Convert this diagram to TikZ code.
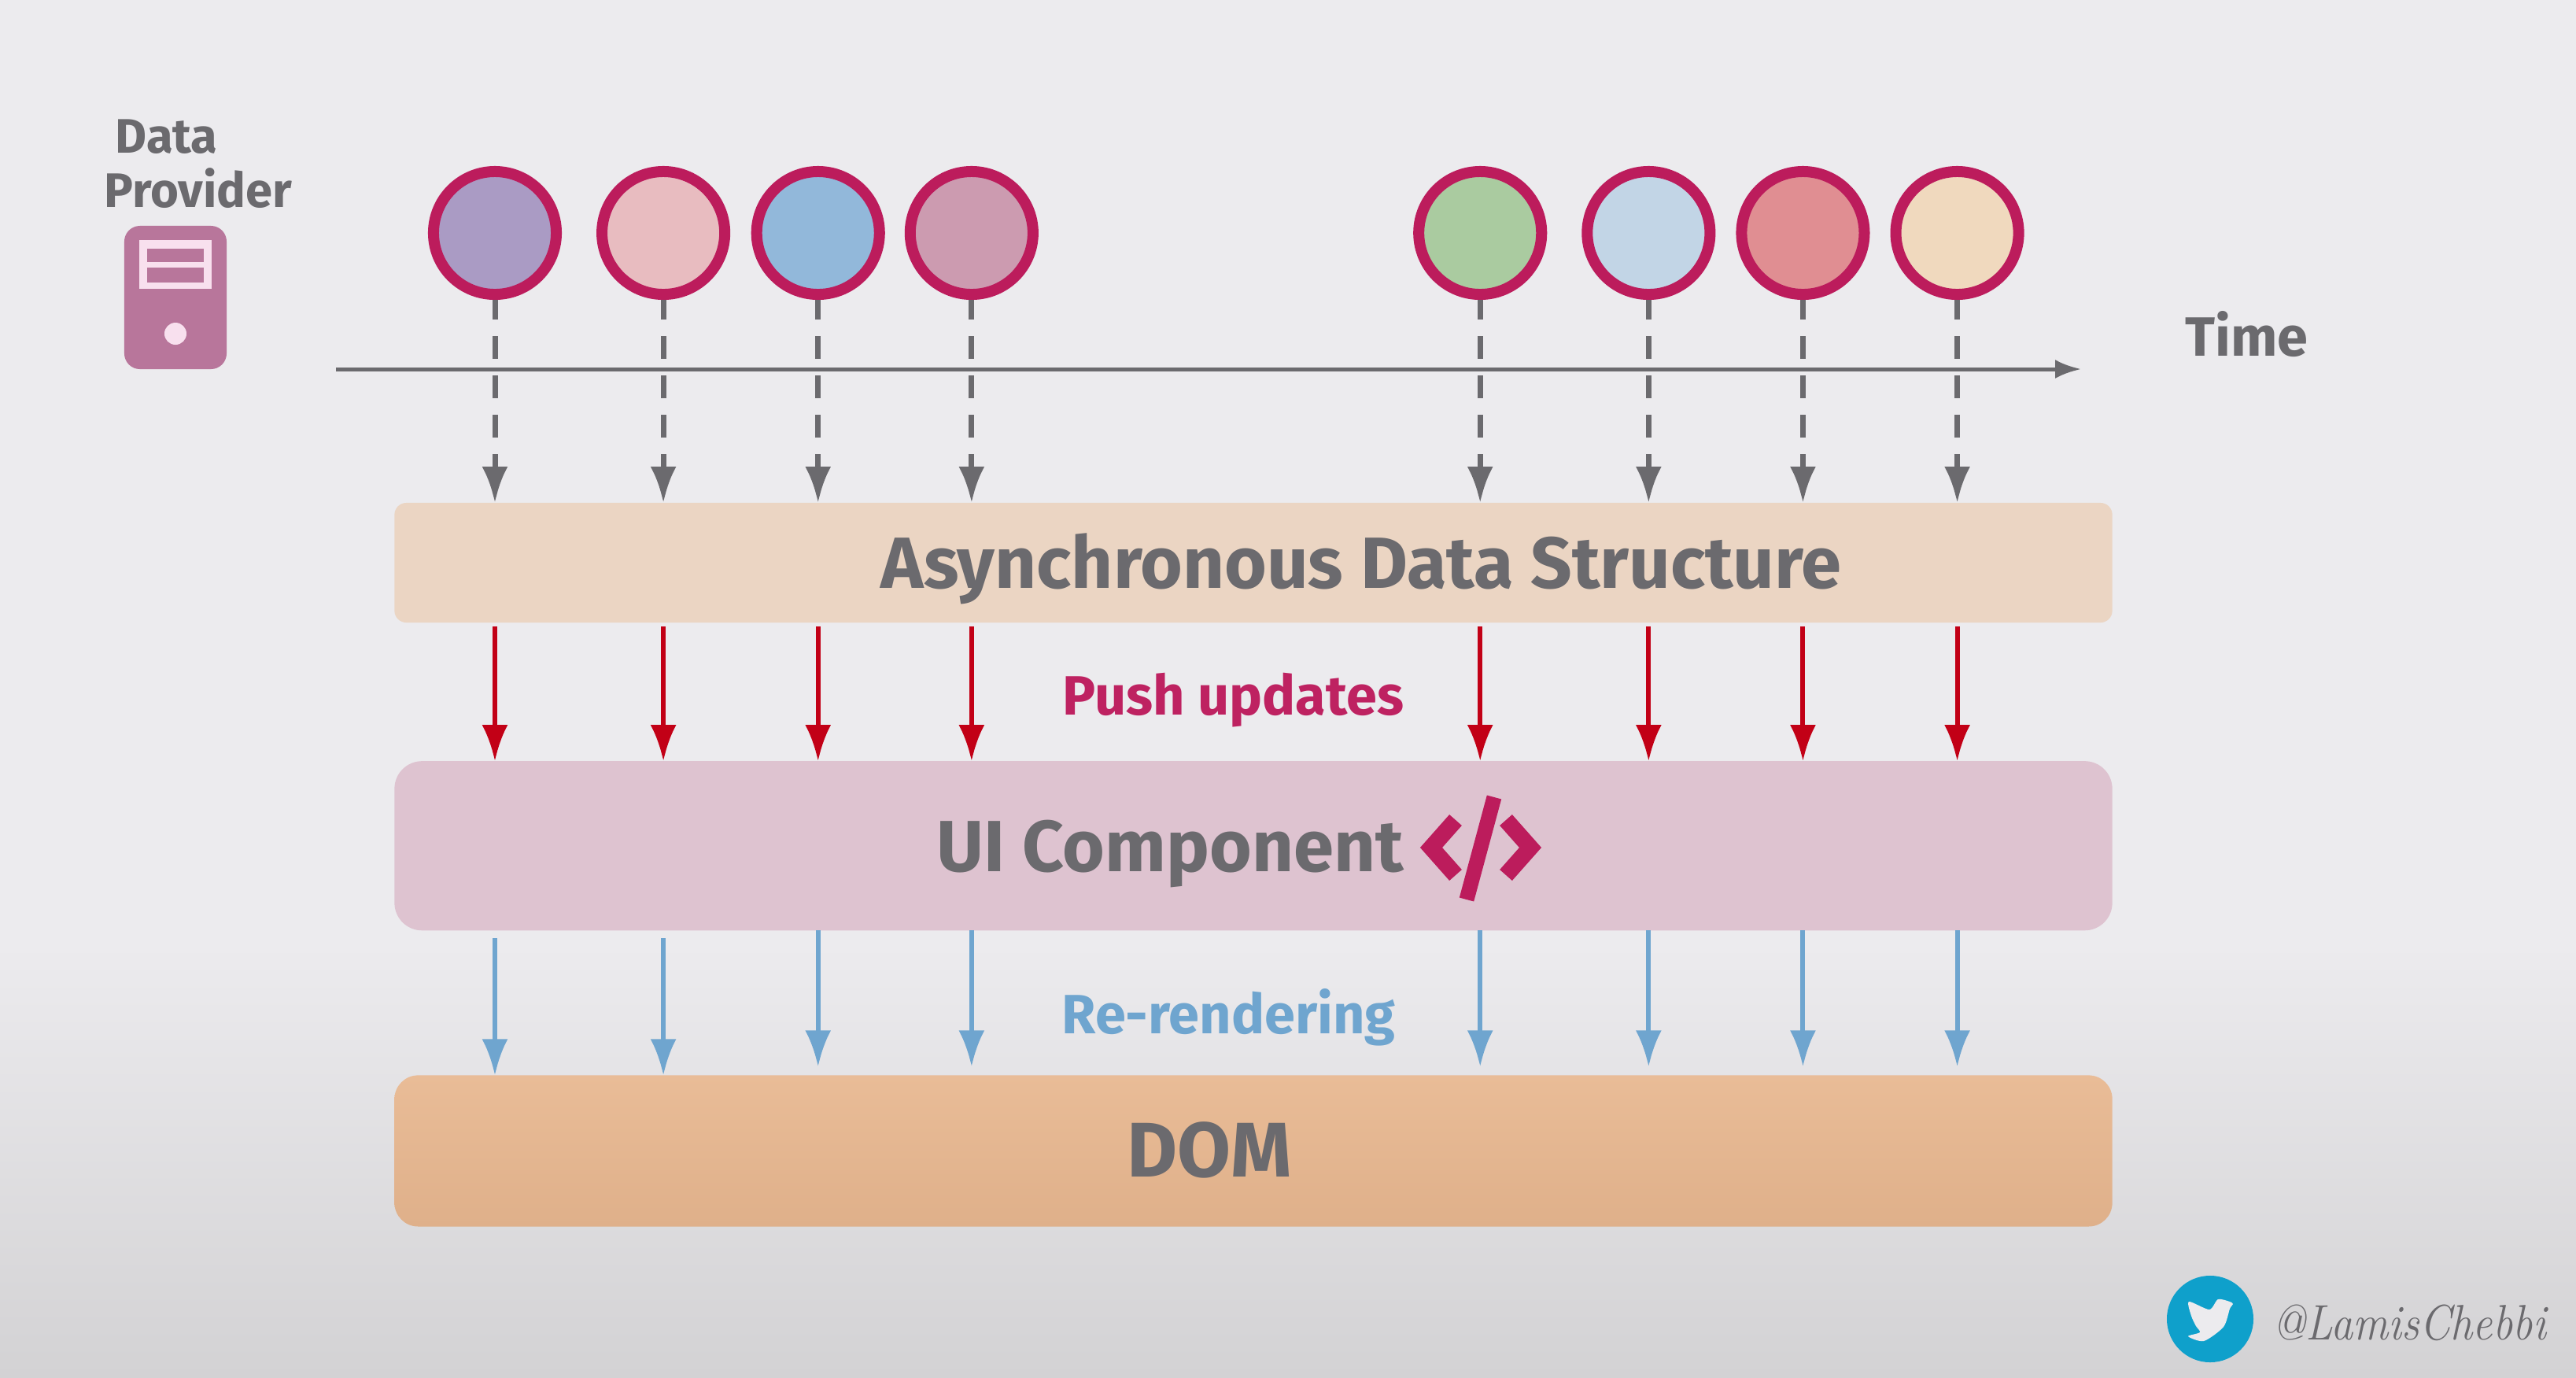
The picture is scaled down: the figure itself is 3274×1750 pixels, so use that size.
\documentclass[tikz,border=0pt]{standalone}
\usepackage{fontspec}
\setsansfont{Fira Sans}
\usetikzlibrary{arrows.meta, positioning}
\definecolor{bgLight}{HTML}{ECEBEE}
\definecolor{bgDark}{HTML}{D3D2D4}
\definecolor{textoGris}{HTML}{6B6A6E}
\definecolor{anillo}{HTML}{BC1C5C}
\definecolor{pushRojo}{HTML}{C20016}
\definecolor{pushTexto}{HTML}{BE2261}
\definecolor{renderAzul}{HTML}{6FA5CF}
\definecolor{servidor}{HTML}{B8769B}
\definecolor{servidorClaro}{HTML}{F8E0EE}
\definecolor{barAsync}{HTML}{EBD5C3}
\definecolor{barUi}{HTML}{DEC3D0}
\definecolor{twitter}{HTML}{0FA0CB}

\begin{document}
\begin{tikzpicture}[
        x=0.01cm, y=-0.01cm,
        pt/.style={circle, draw=anillo, line width=0.14cm, minimum size=1.56cm, inner sep=0pt, outer sep=0.07cm},
        bar/.style={minimum width=21.82cm, inner sep=0pt, outer sep=0pt},
        big/.style={anchor=base west, text=textoGris, inner sep=0pt, font=\sffamily\bfseries\fontsize{26.2}{30}\selectfont},
        small/.style={anchor=base west, text=textoGris, inner sep=0pt, font=\sffamily\bfseries\fontsize{17.5}{20}\selectfont},
        feed/.style={-{Latex[length=0.46cm,width=0.33cm]}, textoGris, line width=0.07cm, dash pattern=on 0.29cm off 0.21cm, dash phase=0.04cm},
        pushrel/.style={-{Latex[length=0.46cm,width=0.33cm]}, pushRojo, line width=0.06cm},
        renderrel/.style={-{Latex[length=0.46cm,width=0.33cm]}, renderAzul, line width=0.06cm},
        glyph/.style={anillo, line width=0.21cm}
    ]
        \useasboundingbox (0,0) rectangle (3274,1750);
        \fill[bgLight] (0,0) rectangle (3274,1201);
        \shade[top color=bgLight, bottom color=bgDark] (0,1200) rectangle (3274,1750);

        % data provider
        \node[small] (dataTxt) at (146,194) {Data};
        \node[small] (providerTxt) at (132,263) {Provider};
        \node[fill=servidor, rounded corners=0.2cm, minimum width=1.3cm, minimum height=1.82cm, inner sep=0pt] (server) at (223,378) {};
        \node[fill=servidorClaro, minimum width=0.91cm, minimum height=0.61cm, inner sep=0pt] (rack) at (223,336) {};
        \node[fill=servidor, minimum width=0.72cm, minimum height=0.17cm, inner sep=0pt] (slotA) at (223,324.5) {};
        \node[fill=servidor, minimum width=0.72cm, minimum height=0.19cm, inner sep=0pt] (slotB) at (223,349.5) {};
        \node[circle, fill=servidorClaro, minimum size=0.28cm, inner sep=0pt] (led) at (223,424) {};

        % updates
        \node[pt, fill={rgb,255:red,170;green,155;blue,196}] (p1) at (629,296) {};
        \node[pt, fill={rgb,255:red,232;green,188;blue,192}, right=0.44cm of p1] (p2) {};
        \node[pt, fill={rgb,255:red,146;green,184;blue,218}, right=0.265cm of p2] (p3) {};
        \node[pt, fill={rgb,255:red,204;green,155;blue,176}, right=0.25cm of p3] (p4) {};
        \node[pt, fill={rgb,255:red,170;green,203;blue,160}, right=4.76cm of p4] (p5) {};
        \node[pt, fill={rgb,255:red,194;green,213;blue,230}, right=0.44cm of p5] (p6) {};
        \node[pt, fill={rgb,255:red,224;green,142;blue,146}, right=0.26cm of p6] (p7) {};
        \node[pt, fill={rgb,255:red,240;green,217;blue,190}, right=0.26cm of p7] (p8) {};

        % time axis
        \coordinate (t0) at (427,469);
        \coordinate (t1) at (2645,469);
        \draw[-{Latex[length=0.33cm,width=0.24cm]}, textoGris, line width=0.05cm] (t0) -- (t1);
        \node[small, font=\sffamily\bfseries\fontsize{20}{24}\selectfont] (timeTxt) at (2777,452) {Time};

        % bars
        \node[bar, fill=barAsync, rounded corners=0.15cm, minimum height=1.52cm] (async) at (1593,715) {};
        \node[bar, fill=barUi, rounded corners=0.35cm, minimum height=2.15cm, below=1.76cm of async] (ui) {};
        \node[bar, top color={rgb,255:red,233;green,188;blue,151}, bottom color={rgb,255:red,223;green,176;blue,138}, rounded corners=0.3cm, minimum height=1.92cm, below=1.84cm of ui] (dom) {};
        \node[big] (asyncTxt) at (1119,747) {Asynchronous Data Structure};
        \node[big] (uiTxt) at (1190,1107) {UI Component};
        \node[big, font=\sffamily\bfseries\fontsize{28}{32}\selectfont] (domTxt) at (1432,1495) {DOM};

        % code glyph
        \draw[glyph] (1850,1042) -- (1819,1077) -- (1850,1112);
        \draw[glyph] (1914,1042) -- (1945,1077) -- (1914,1112);
        \draw[glyph, line width=0.19cm] (1899,1013) -- (1864,1143);

        % arrows
        \foreach \i in {1,...,8} {
            \draw[feed] (p\i.south) -- (p\i |- async.north);
            \draw[pushrel] ([yshift=-0.05cm]p\i |- async.south) -- (p\i |- ui.north);
        }
        \foreach \i in {1,2} \draw[renderrel] ([yshift=-0.1cm]p\i |- ui.south) -- (p\i |- dom.north);
        \foreach \i in {3,...,8} \draw[renderrel] (p\i |- ui.south) -- ([yshift=0.11cm]p\i |- dom.north);
        \node[small, text=pushTexto, font=\sffamily\bfseries\fontsize{20}{24}\selectfont] (pushTxt) at (1350,908) {Push updates};
        \node[small, text=renderAzul, font=\sffamily\bfseries\fontsize{20}{24}\selectfont] (renderTxt) at (1349,1313) {Re-rendering};

        % twitter
        \node[circle, fill=twitter, minimum size=1.1cm, inner sep=0pt] (bird) at (2809,1676) {};
        \fill[bgLight] plot[smooth cycle, tension=0.45] coordinates {(2834,1654) (2819,1651) (2808,1664) (2782,1654) (2785,1672) (2791,1685) (2796,1693) (2781,1698) (2801,1704) (2826,1686) (2834,1663) (2838,1657)};
        \node[anchor=base west, inner sep=0pt, text=textoGris, font=\itshape\fontsize{18}{22}\selectfont] (handleTxt) at (2888,1702) {\scalebox{0.89}[1]{@LamisChebbi}};
\end{tikzpicture}
\end{document}
